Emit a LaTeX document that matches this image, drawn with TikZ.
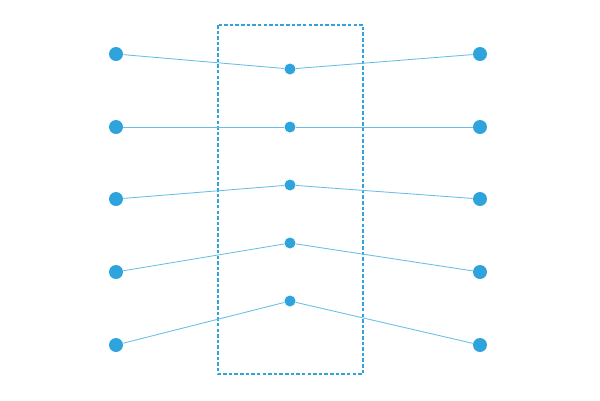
\documentclass[tikz,border=0pt]{standalone}
\begin{document}
\begin{tikzpicture}[x=0.02cm,y=-0.02cm]
\definecolor{dot}{HTML}{2EA3DC}
\definecolor{ln}{HTML}{6BBFE6}
\tikzset{big/.style={circle,fill=dot,inner sep=0,minimum size=14*0.02cm},
small/.style={circle,fill=dot,inner sep=0,minimum size=11*0.02cm},
conn/.style={ln,line width=0.5pt}}
\useasboundingbox (0,0) rectangle (600,400);
\draw[dot,dash pattern=on 2pt off 1.2pt,line width=0.6pt] (218,25) rectangle (363,374);
\foreach \i/\ly/\my in {1/54/69,2/127/127,3/199/185,4/272/243,5/345/301}{
\node[big] (l\i) at (116,\ly) {};
\node[big] (r\i) at (480,\ly) {};
\node[small] (m\i) at (290,\my) {};
\draw[conn] (l\i) -- (m\i) -- (r\i);
}
\end{tikzpicture}
\end{document}
